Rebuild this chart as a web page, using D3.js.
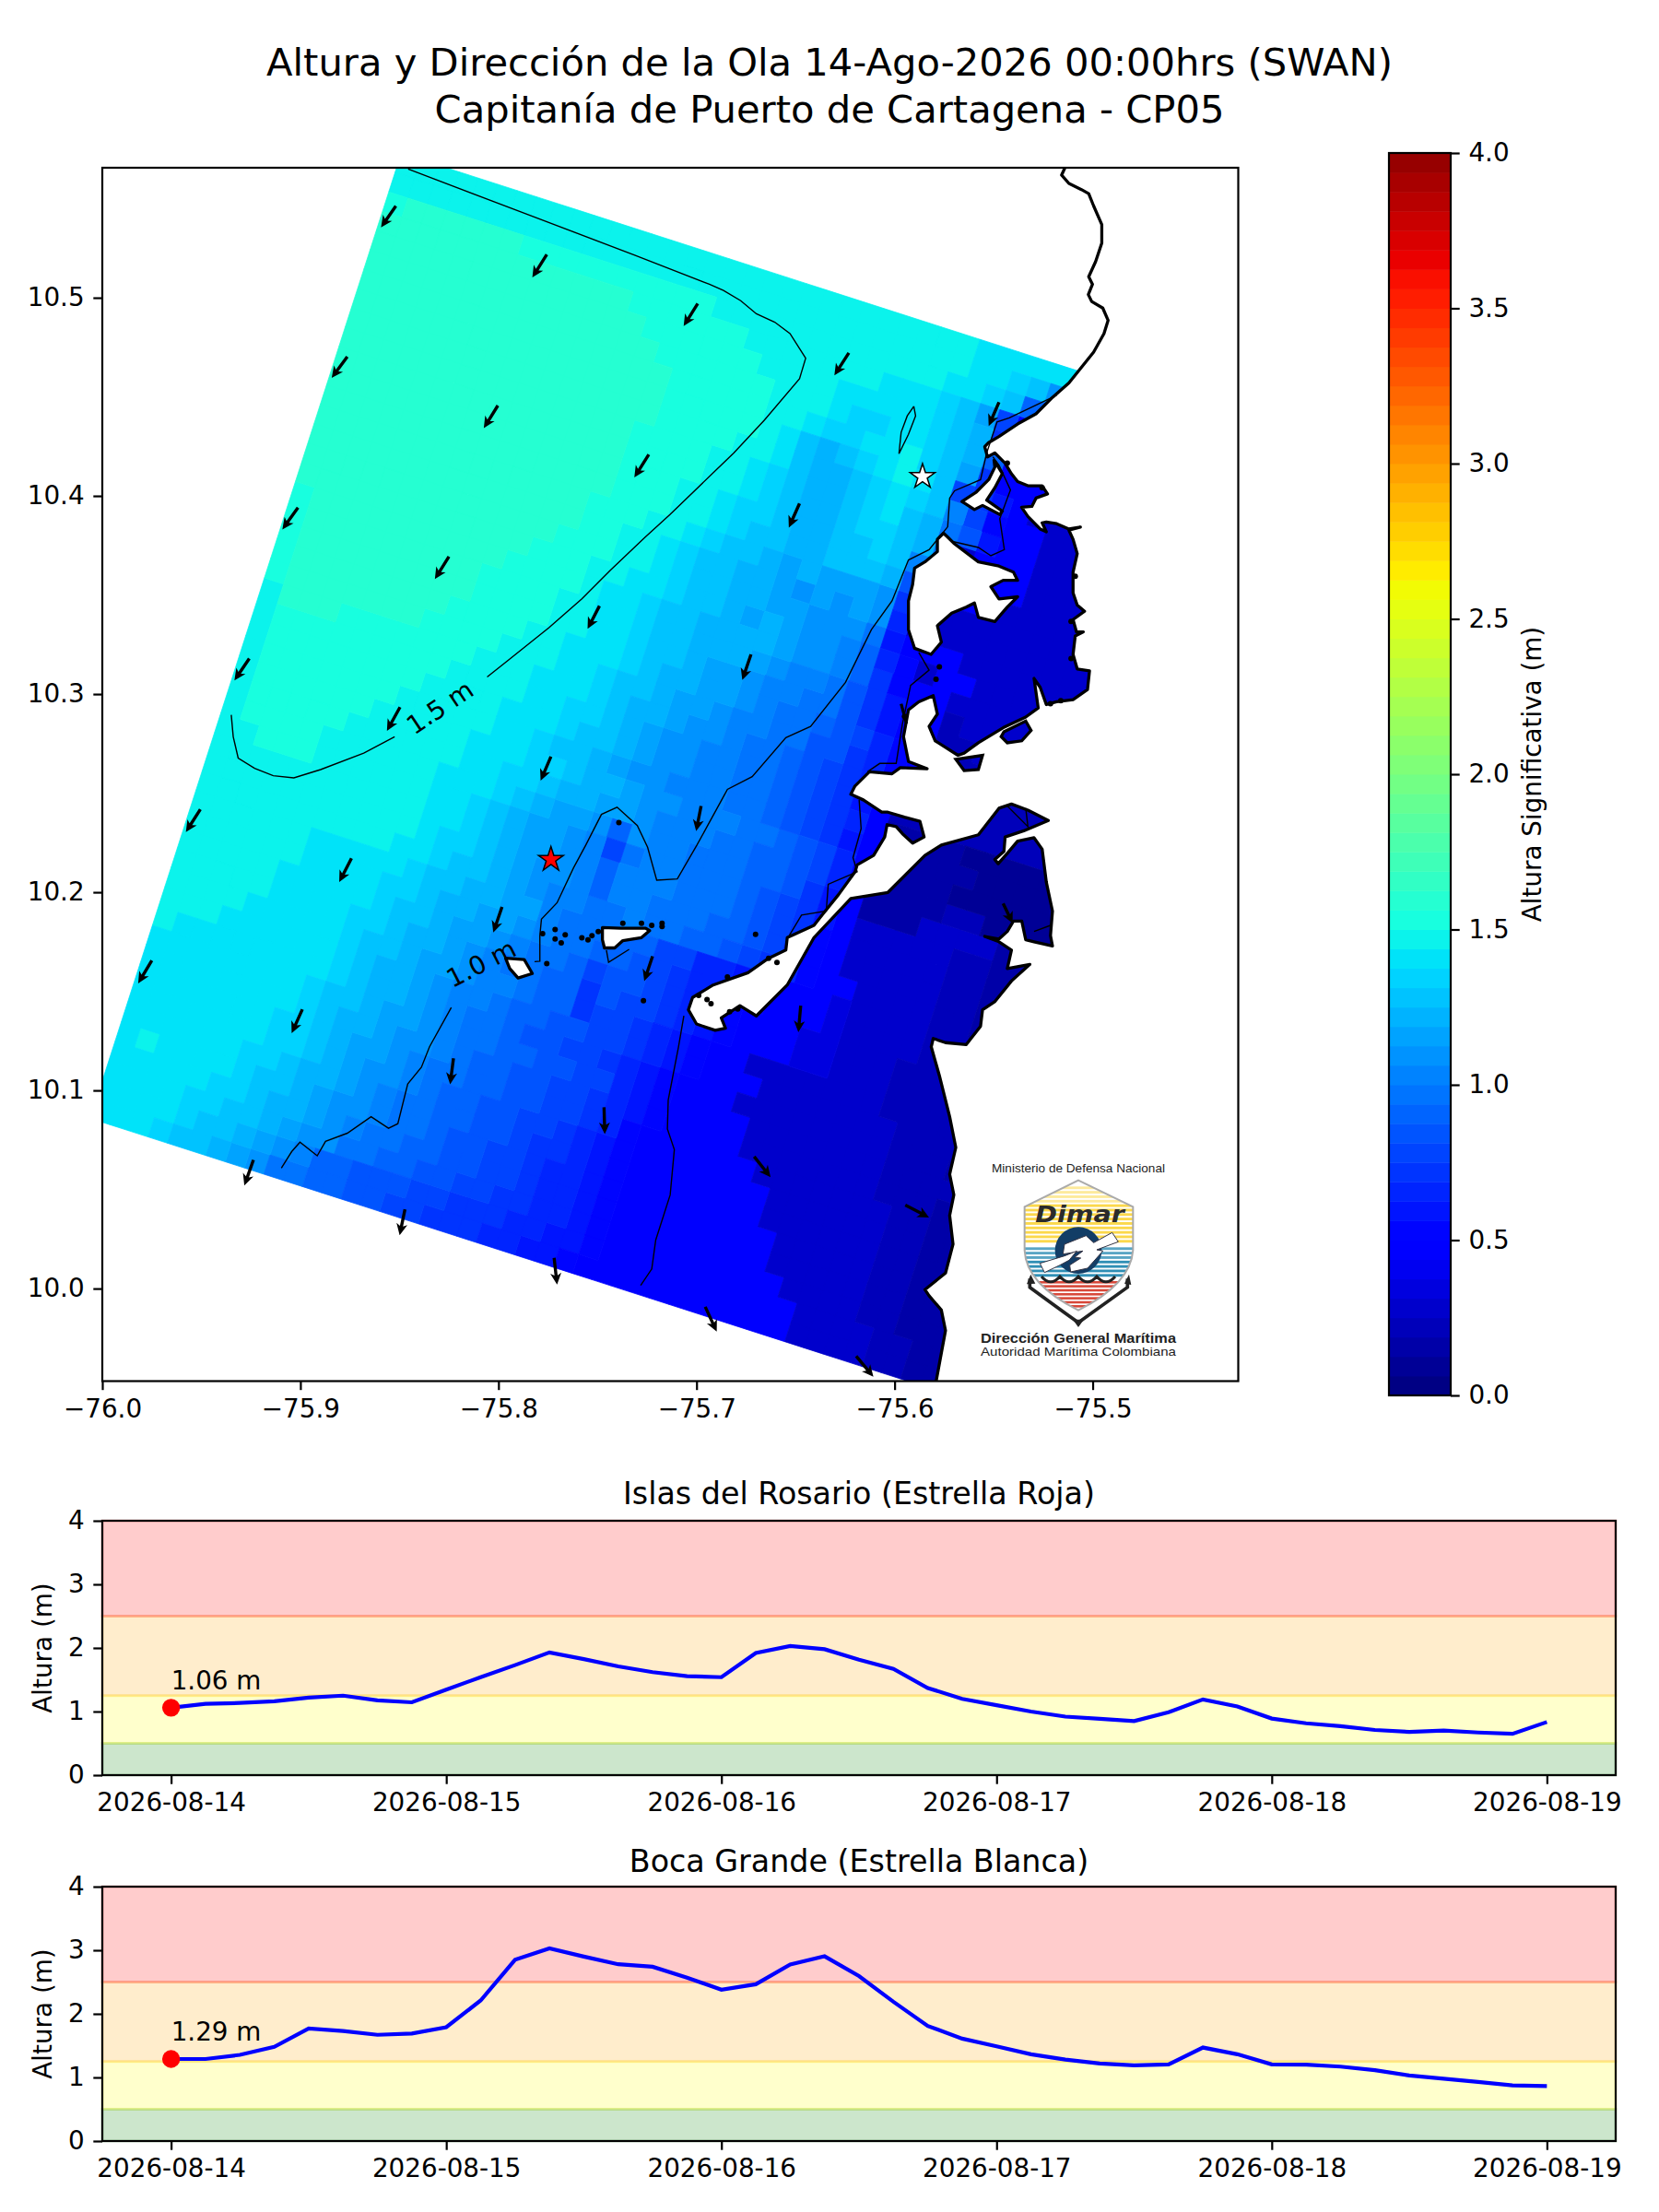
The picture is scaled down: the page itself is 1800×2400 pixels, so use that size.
<!DOCTYPE html>
<html><head><meta charset="utf-8">
<style>html,body{margin:0;background:#fff}svg{display:block}text{font-family:"DejaVu Sans",sans-serif;fill:#000}</style>
<script src="https://cdnjs.cloudflare.com/ajax/libs/d3/7.8.5/d3.min.js"></script></head><body>
<svg id="c" width="1800" height="2400" xmlns="http://www.w3.org/2000/svg"></svg>
<script>
const mainTitle=["Altura y Dirección de la Ola 14-Ago-2026 00:00hrs (SWAN)","Capitanía de Puerto de Cartagena - CP05"];
const lonTicks=[-76,-75.9,-75.8,-75.7,-75.6,-75.5];
const latTicks=[10,10.1,10.2,10.3,10.4,10.5];
const barTicks=[0,0.5,1,1.5,2,2.5,3,3.5,4];
// SWAN significant height grid: letter+run length, last letter fills the row
const waveCodes="abcdefghklmnopqrstuvwxyzA";
const waveMetres=[1.60,1.53,1.47,1.41,1.34,1.28,1.22,1.16,1.09,1.03,.97,.91,.84,.78,.72,.66,.59,.53,.47,.41,.34,.28,.22,.16,.09];
const waveRows=[
"c30 d16","c30 d2 e1 f1 k1 m1 u1","b1 a6 b10 c12 d2 e1 f1 n1 q1 u1","a13 b6 c7 d3 e1 f1 h1 p1 u1","a14 b6 c4 d5 e1 f1 g1 q1 u1",
"a15 b6 c3 d1 e2 d2 e1 f1 g1 n1 u1","a16 b5 c2 d1 e2 d2 c1 e1 f1 h1 q1 u1","a16 b5 c1 d1 f1 g1 f1 e1 d1 c1 d1 f1 p1 q1 s1 u1 x1","a16 b4 c2 d1 f1 g2 f1 e1 d1 e1 f1 l1 p1 t1 u2 x1","a15 b4 c2 d1 e1 f1 g2 f1 e1 d1 f1 g1 m1 o1 s1 u2 x1",
"a15 b4 c2 d1 e1 f1 g2 f1 e2 f1 g1 m1 x1 u3 x1","a15 b3 c2 d1 e2 f1 g2 f2 e1 f1 l1 u5 x1","a15 b3 c2 d1 e1 f2 g2 f3 g1 o1 u4 x1","a14 b3 c2 d1 e1 f2 g1 h1 g1 h3 k1 q1 x1","a14 b2 c2 d1 e1 f2 g2 h1 k1 h1 k1 h1 k1 r1 x1",
"a13 b3 c2 d1 e1 f2 g2 h2 k3 m1 s1 u3 x1","a12 b3 c2 d2 e1 f2 g1 h1 g1 h1 k2 l1 n1 r1 t1 x1 u2 x1","b1 a10 b4 c1 d2 e1 f2 g4 h1 k2 l1 n1 q1 t1 u2 x1","b1 a9 b4 c2 d2 e1 f2 g3 h1 k1 l2 m1 o1 q1 s1 u2 y1 x1","b1 a9 b4 c2 d2 e1 f2 g1 h2 k1 l2 m2 o1 q1 s1 u2 y2 x1",
"b1 a8 b4 c2 d3 e1 f1 g2 h2 k1 l1 m2 n1 o1 p1 r1 t1 u1 y1","b1 a7 b4 c3 d2 e1 f2 g1 h2 k1 l2 m2 o2 q1 r1 t1 u1 y1","c1 a3 b7 c3 d3 e1 f1 g2 h1 k2 l1 m2 n1 o1 p1 q1 r1 t1 u1 y1","c1 b9 c4 d2 e2 f1 g1 h1 k2 l2 m2 n1 o1 p1 q1 s1 u1 y1","c1 b8 c4 d3 e1 f2 g1 h1 k2 l2 m2 n1 o1 p1 q1 r1 u1 z4 A1",
"c1 b7 c5 d2 e1 f2 g1 h1 k2 l3 m2 n1 o1 p1 q1 s1 u1 z5 A1","c1 b6 c5 d3 e2 f1 g2 h1 k2 l3 m2 n1 o1 p1 r1 u1 z4 A1","c1 b5 c6 d2 e2 f1 g2 h2 k1 l3 m2 n2 o1 p1 r1 u1 z4 y2 A1","c1 b4 c6 d3 e1 f1 g1 h2 k1 n1 k1 l2 m3 n2 o1 q1 s1 u1 z3 x4 z2 A1","c2 b3 c6 d2 e1 f1 g1 h2 k1 l1 p1 m1 l2 m3 n1 o1 p1 q1 s1 u1 x5 y2 z2 A1",
"c11 d2 e1 f1 g1 h2 k1 l1 n1 l3 m3 n1 o1 p1 q1 t1 u1 x5 y2 z2 A1","c11 d1 e2 f1 g1 h1 k2 l1 n1 l2 m3 n2 o1 p1 r1 t1 u1 x5 y2 z2 A1","c10 d2 e1 f2 g1 h1 k1 l2 m2 l1 m2 n2 o1 p1 q1 r1 t1 u2 x4 y2 z2 A1","c6 d5 e1 f2 g2 h2 l1 m3 n2 p2 r2 s1 t1 u3 w1 x4 y3 z1","c6 d4 e2 f1 g2 h2 k1 l1 m2 n2 o1 p1 q1 r2 s1 t1 u3 w1 x4 y3 z1",
"c5 d5 e1 f2 g1 h2 k1 l1 m2 n1 p1 o2 p1 q1 r1 s1 t1 u3 w2 x3 y4 z1","c5 d4 e2 f1 g2 h1 k1 l1 m2 n2 q1 o1 p2 q1 r1 s1 t1 u3 w2 x3 y4 z1","c4 d5 e1 f2 g1 h2 k1 l2 m1 n2 q1 p2 q1 r1 s1 t1 u2 x7 y4 z1","c3 d6 e1 f1 g2 h1 k1 l2 m1 n2 o2 p2 q1 r1 s1 t1 u3 x7 y4 z1","c1 d8 e1 f1 g2 h1 k1 l1 m2 n1 o2 p2 q1 r1 s1 t1 u3 x8 y3 z1",
"d8 e1 f2 g1 h2 k1 l1 m2 n2 o2 p2 r1 s1 t1 u4 x7 y4 z1","d8 e1 f1 g2 h1 k2 l1 m1 n2 o2 p2 q1 r1 s1 t1 u4 x7 y3 z1","d7 e2 f1 g1 h2 k1 l1 m2 n2 o2 p2 q1 r1 t1 u6 x7 y2 z1","d7 e2 f1 g1 h1 k2 l1 m1 n2 o2 p2 q1 r1 s1 t1 u7 x6 y2 z1","d6 e2 f1 g2 h1 k1 l1 m2 n2 o2 p1 q2 r1 s1 t1 u7 x6 y2 z1",
"d1 c1 d4 e1 f2 g1 h1 k2 l1 m2 n1 o2 p2 q1 r2 s1 t1 u8 x5 y2 z1","d5 e2 f1 g2 h1 k1 l1 m2 n2 o2 p2 q1 r2 s1 t1 u8 x5 y2 z1","d4 e2 f2 g1 h1 k2 m2 n2 o2 p2 q2 r2 s1 t1 u9 x4 y2 z1","d4 e1 f2 g1 h1 k1 l1 n2 o3 p2 q3 r2 s2 t1 u10 x4 y2 z1","d3 e1 f2 g1 h1 k1 m2 n2 o2 p2 q3 r2 s2 t1 u11 x4 y2 z1"];
const gridColumns=46;
const gridOrigin=[-75.8491,10.5729], gridStepI=[.00974,-.00313], gridStepJ=[-.00314,-.00974];
// coast, lon/lat pairs
const coastMain=[[-75.514,10.5712],[-75.5140,10.5656],[-75.5157,10.5619],[-75.5120,10.5577],[-75.5057,10.5546],[-75.5020,10.5525],[-75.4995,10.5463],[-75.4954,10.5369],[-75.4954,10.5276],[-75.4985,10.5183],[-75.5020,10.5106],[-75.5001,10.5068],[-75.5022,10.5016],[-75.5005,10.4981],[-75.4949,10.4948],[-75.4922,10.4886],[-75.4943,10.4819],[-75.4995,10.4726],[-75.5078,10.4622],[-75.5120,10.4570],[-75.5203,10.4497],[-75.5286,10.4414],[-75.5379,10.4363],[-75.5473,10.4300],[-75.5525,10.4269],[-75.5545,10.4248],[-75.5531,10.4197],[-75.5494,10.4217],[-75.5442,10.4165],[-75.5411,10.4113],[-75.5379,10.4072],[-75.5327,10.4051],[-75.5255,10.4051],[-75.5228,10.4010],[-75.5286,10.3989],[-75.5307,10.3947],[-75.5359,10.3943],[-75.5327,10.3896],[-75.5265,10.3833],[-75.5234,10.3819],[-75.5255,10.3864],[-75.5234,10.3868],[-75.5182,10.3860],[-75.5120,10.3833],[-75.5062,10.3843],[-75.5120,10.3827],[-75.5099,10.3781],[-75.5078,10.3709],[-75.5099,10.3615],[-75.5099,10.3511],[-75.5078,10.3449],[-75.5041,10.3418],[-75.5099,10.3376],[-75.5082,10.3314],[-75.5047,10.3314],[-75.5088,10.3293],[-75.5099,10.3200],[-75.5078,10.3127],[-75.5016,10.3117],[-75.5026,10.3023],[-75.5099,10.2972],[-75.5182,10.2961],[-75.5234,10.2947],[-75.5265,10.3034],[-75.5296,10.3079],[-75.5275,10.2930],[-75.5338,10.2884],[-75.5452,10.2830],[-75.5577,10.2754],[-75.5649,10.2702],[-75.5680,10.2691],[-75.5795,10.2764],[-75.5826,10.2837],[-75.5784,10.2899],[-75.5805,10.2992],[-75.5878,10.2961],[-75.5930,10.2920],[-75.5955,10.2785],[-75.5930,10.2660],[-75.5836,10.2623],[-75.5971,10.2629],[-75.6013,10.2598],[-75.6127,10.2608],[-75.6200,10.2536],[-75.6221,10.2494],[-75.6158,10.2466],[-75.6065,10.2404],[-75.6034,10.2404],[-75.5950,10.2379],[-75.5872,10.2358],[-75.5851,10.2279],[-75.5909,10.2248],[-75.5961,10.2296],[-75.5992,10.2331],[-75.6038,10.2341],[-75.6050,10.2279],[-75.6106,10.2186],[-75.6189,10.2138],[-75.6200,10.2103],[-75.6283,10.1988],[-75.6366,10.1885],[-75.6407,10.1833],[-75.6542,10.1771],[-75.6549,10.1708],[-75.6636,10.1667],[-75.6740,10.1594],[-75.6916,10.1532],[-75.7020,10.1469],[-75.7041,10.1407],[-75.7000,10.1335],[-75.6906,10.1303],[-75.6854,10.1314],[-75.6875,10.1366],[-75.6781,10.1428],[-75.6698,10.1376],[-75.6542,10.1532],[-75.6407,10.1771],[-75.6221,10.1968],[-75.6034,10.1999],[-75.5847,10.2186],[-75.5764,10.2238],[-75.5577,10.2290],[-75.5473,10.2424],[-75.5410,10.2445],[-75.5327,10.2414],[-75.5224,10.2362],[-75.5348,10.2310],[-75.5442,10.2279],[-75.5448,10.2206],[-75.5494,10.2165],[-75.5477,10.2144],[-75.5431,10.2196],[-75.5379,10.2258],[-75.5296,10.2275],[-75.5255,10.2217],[-75.5234,10.2051],[-75.5203,10.1905],[-75.5213,10.1781],[-75.5203,10.1729],[-75.5296,10.1750],[-75.5338,10.1760],[-75.5358,10.1854],[-75.5400,10.1854],[-75.5431,10.1802],[-75.5473,10.1764],[-75.5545,10.1777],[-75.5473,10.1750],[-75.5410,10.1708],[-75.5431,10.1615],[-75.5317,10.1636],[-75.5410,10.1552],[-75.5493,10.1449],[-75.5556,10.1407],[-75.5566,10.1324],[-75.5639,10.1231],[-75.5743,10.1241],[-75.5805,10.1262],[-75.5815,10.1220],[-75.5774,10.1075],[-75.5722,10.0867],[-75.5691,10.0712],[-75.5722,10.0577],[-75.5701,10.0473],[-75.5722,10.0369],[-75.5705,10.0224],[-75.5743,10.0078],[-75.5847,9.9995],[-75.5826,9.9964],[-75.5764,9.9892],[-75.5743,9.9788],[-75.5789,9.9539],[-75.5805,9.9487]];
const coastOuterClose=[[-75.40,9.94],[-75.40,10.58],[-75.514,10.58]];
const landIslands=[
[[-75.5753,10.3812],[-75.5784,10.3781],[-75.5784,10.3719],[-75.5847,10.3667],[-75.5899,10.3636],[-75.5909,10.3553],[-75.5930,10.3470],[-75.5930,10.3325],[-75.5899,10.3231],[-75.5816,10.3200],[-75.5764,10.3262],[-75.5784,10.3345],[-75.5712,10.3408],[-75.5639,10.3439],[-75.5597,10.3460],[-75.5577,10.3387],[-75.5494,10.3366],[-75.5431,10.3439],[-75.5379,10.3491],[-75.5473,10.3480],[-75.5514,10.3542],[-75.5452,10.3574],[-75.5379,10.3574],[-75.5400,10.3615],[-75.5473,10.3646],[-75.5577,10.3667],[-75.5701,10.3761],[-75.5732,10.3792]],
[[-75.5498,10.4180],[-75.5456,10.4113],[-75.5494,10.4041],[-75.5535,10.3979],[-75.5456,10.3923],[-75.5469,10.3906],[-75.5556,10.3952],[-75.5597,10.3931],[-75.5660,10.3972],[-75.5587,10.4020],[-75.5525,10.4082],[-75.5494,10.4145]],
[[-75.7475,10.1822],[-75.7382,10.1818],[-75.7257,10.1818],[-75.7237,10.1806],[-75.7278,10.1771],[-75.7372,10.1756],[-75.7413,10.1719],[-75.7465,10.1719],[-75.7475,10.1760]],
[[-75.7964,10.1667],[-75.7870,10.1660],[-75.7829,10.1590],[-75.7901,10.1567],[-75.7943,10.1615]]];
const waterHoles=[
[[-75.5448,10.2810],[-75.5338,10.2864],[-75.5311,10.2816],[-75.5358,10.2764],[-75.5431,10.2754],[-75.5462,10.2785]],
[[-75.5691,10.2671],[-75.5556,10.2691],[-75.5577,10.2619],[-75.5649,10.2614]]];
const coastExtra=[[[-75.5967,10.2951],[-75.5940,10.2851]]];
const islets=[[-75.7777,10.1791],[-75.7714,10.1812],[-75.7663,10.1785],[-75.7714,10.1764],[-75.7683,10.1744],[-75.7579,10.1770],[-75.7548,10.1760],[-75.7528,10.1781],[-75.7496,10.1802],[-75.7372,10.1843],[-75.7278,10.1843],[-75.7226,10.1833],[-75.7174,10.1843],[-75.7174,10.1827],[-75.7392,10.2352],[-75.7268,10.1453],[-75.7756,10.1640],[-75.6989,10.1480],[-75.6947,10.1459],[-75.6927,10.1438],[-75.6844,10.1573],[-75.6636,10.1667],[-75.6594,10.1646],[-75.6833,10.1397],[-75.6792,10.1411],[-75.6702,10.1787],[-75.5774,10.3137],[-75.5791,10.3075],[-75.5255,10.4041],[-75.5950,10.2888],[-75.5088,10.3594],[-75.5109,10.3366],[-75.5109,10.3179],[-75.5161,10.2967],[-75.5213,10.2951],[-75.5431,10.4165]];
const contourLines=[
[[-75.8456,10.5650],[-75.7829,10.5411],[-75.7309,10.5214],[-75.6935,10.5068],[-75.6864,10.5037],[-75.6777,10.4985],[-75.6698,10.4919],[-75.6605,10.4877],[-75.6528,10.4819],[-75.6449,10.4695],[-75.6480,10.4591],[-75.6657,10.4383],[-75.6812,10.4217],[-75.7134,10.3906],[-75.7259,10.3792],[-75.7434,10.3626],[-75.7579,10.3480],[-75.7745,10.3335],[-75.7953,10.3169],[-75.8057,10.3086]],
[[-75.8524,10.2785],[-75.8680,10.2702],[-75.8898,10.2619],[-75.9033,10.2577],[-75.9137,10.2588],[-75.9231,10.2625],[-75.9314,10.2677],[-75.9339,10.2785],[-75.9349,10.2895]],
[[-75.5903,10.4452],[-75.5894,10.4404],[-75.5930,10.4311],[-75.5978,10.4213],[-75.5967,10.4321],[-75.5936,10.4404],[-75.5903,10.4452]],
[[-75.9096,10.0608],[-75.9044,10.0691],[-75.9002,10.0739],[-75.8915,10.0670],[-75.8873,10.0743],[-75.8763,10.0784],[-75.8643,10.0867],[-75.8555,10.0809],[-75.8508,10.0832],[-75.8458,10.1033],[-75.8389,10.1117],[-75.8348,10.1220],[-75.8238,10.1418]],
[[-75.7818,10.1650],[-75.7791,10.1652],[-75.7791,10.1781],[-75.7783,10.1864],[-75.7704,10.1947],[-75.7621,10.2123],[-75.7559,10.2238],[-75.7480,10.2393],[-75.7401,10.2429],[-75.7299,10.2337],[-75.7247,10.2227],[-75.7201,10.2061],[-75.7097,10.2067],[-75.6998,10.2238],[-75.6873,10.2466],[-75.6844,10.2519],[-75.6719,10.2583],[-75.6549,10.2780],[-75.6424,10.2837],[-75.6248,10.3059],[-75.6117,10.3325],[-75.6013,10.3470],[-75.5930,10.3677],[-75.5826,10.3729],[-75.5732,10.3844],[-75.5722,10.3989],[-75.5697,10.4026],[-75.5566,10.4082],[-75.5535,10.4217],[-75.5483,10.4373],[-75.5421,10.4394],[-75.5182,10.4508]],
[[-75.5712,10.3771],[-75.5577,10.3740],[-75.5514,10.3698],[-75.5446,10.3729],[-75.5469,10.3885],[-75.5415,10.4030],[-75.5473,10.4155],[-75.5504,10.4197]],
[[-75.7455,10.1708],[-75.7444,10.1646],[-75.7340,10.1712]],
[[-75.7064,10.1376],[-75.7091,10.1220],[-75.7143,10.0951],[-75.7147,10.0805],[-75.7112,10.0701],[-75.7133,10.0473],[-75.7206,10.0245],[-75.7226,10.0099],[-75.7282,10.0016]],
[[-75.5878,10.3210],[-75.5826,10.3121],[-75.5919,10.3044],[-75.5961,10.2847],[-75.5992,10.2650],[-75.6075,10.2650],[-75.6137,10.2608]],
[[-75.6179,10.2466],[-75.6169,10.2321],[-75.6210,10.2175],[-75.6189,10.2103],[-75.6335,10.2040],[-75.6345,10.1905],[-75.6470,10.1885],[-75.6532,10.1781]],
[[-75.5296,10.1802],[-75.5213,10.1833]],
[[-75.5431,10.2435],[-75.5327,10.2331],[-75.5338,10.2424]]];
const contourLabelText=["1.5 m","1.0 m"], contourLabelLon=[-75.8296,-75.8088], contourLabelLat=[10.2934,10.1642], contourLabelAngle=[-34,-27];
// arrows: tail lon, tail lat, d lon, d lat
const arrows=[[-75.8518,10.5463,-.0075,-.0108],[-75.7756,10.5218,-.0073,-.0116],[-75.6994,10.4971,-.0071,-.0114],[-75.8763,10.4703,-.0079,-.0108],[-75.8003,10.4456,-.0071,-.0114],[-75.7241,10.4209,-.0073,-.0116],[-75.9012,10.3941,-.0079,-.0110],[-75.8250,10.3694,-.0071,-.0114],[-75.7490,10.3445,-.0060,-.0116],[-75.9258,10.3179,-.0075,-.0110],[-75.8497,10.2934,-.0066,-.0120],[-75.7735,10.2685,-.0052,-.0122],[-75.6231,10.4722,-.0073,-.0114],[-75.5473,10.4473,-.0052,-.0120],[-75.6480,10.3962,-.0054,-.0122],[-75.6725,10.3200,-.0044,-.0129],[-75.9505,10.2418,-.0073,-.0114],[-75.8742,10.2171,-.0062,-.0120],[-75.7982,10.1926,-.0044,-.0129],[-75.9750,10.1656,-.0069,-.0116],[-75.8990,10.1409,-.0054,-.0120],[-75.8227,10.1162,-.0017,-.0131],[-75.7222,10.1677,-.0042,-.0125],[-75.6977,10.2435,-.0025,-.0127],[-75.9237,10.0649,-.0046,-.0129],[-75.8472,10.0400,-.0027,-.0131],[-75.7467,10.0915,.0004,-.0135],[-75.7719,10.0155,.0015,-.0135],[-75.6956,9.9908,.0058,-.0125],[-75.6474,10.1428,-.0012,-.0135],[-75.6709,10.0666,.0083,-.0104],[-75.5946,10.0421,.0120,-.0062],[-75.6194,9.9659,.0087,-.0104],[-75.5452,10.1943,.0048,-.0100]];
const stationNames=["Islas del Rosario (Estrella Roja)","Boca Grande (Estrella Blanca)"];
const stationLon=[-75.7735,-75.5859], stationLat=[10.2165,10.4097], stationFill=["#ff0000","#ffffff"];
const seriesStart="2026-08-14T00:00:00Z";
const rosarioHeights=[1.06,1.12,1.135,1.16,1.22,1.25,1.175,1.145,1.345,1.54,1.73,1.93,1.825,1.71,1.62,1.555,1.54,1.92,2.03,1.98,1.815,1.67,1.37,1.20,1.10,1.0,.92,.885,.85,.99,1.19,1.08,.89,.815,.77,.71,.68,.70,.67,.65,.835];
const bocaHeights=[1.29,1.29,1.355,1.48,1.77,1.73,1.67,1.69,1.79,2.21,2.85,3.03,2.90,2.78,2.74,2.57,2.38,2.465,2.775,2.905,2.595,2.19,1.81,1.61,1.49,1.365,1.28,1.22,1.19,1.205,1.47,1.365,1.205,1.20,1.17,1.115,1.03,.98,.93,.875,.865];
const dateTicks=["2026-08-14","2026-08-15","2026-08-16","2026-08-17","2026-08-18","2026-08-19"];
const bandEdges=[0,.5,1.25,2.5,4], bandColors=["#008000","#ffff00","#ffa500","#ff0000"];

const svg=d3.select("#c");
const TICK=9.7,LW=2.2,FS=27.8;
svg.append("rect").attr("width",1800).attr("height",2400).attr("fill","#fff");
// titles
mainTitle.forEach((t,i)=>svg.append("text").attr("x",900).attr("y",82+i*51).attr("text-anchor","middle").attr("font-size",41.67).text(t));

// jet colours, 64 steps
const jR=d3.scaleLinear().domain([0,.35,.66,.89,1]).range([0,0,1,1,.545]);
const jG=d3.scaleLinear().domain([0,.125,.375,.64,.91,1]).range([0,0,1,1,0,0]);
const jB=d3.scaleLinear().domain([0,.11,.34,.65,1]).range([.5,1,1,0,0]);
const nBands=64;
const bandColor=d3.range(nBands).map(k=>{const t=(k+.25)/nBands;return d3.rgb(jR(t)*255,jG(t)*255,jB(t)*255).formatHex();});
const color=d3.scaleQuantize().domain([0,4]).range(bandColor);

// map
const M={l:111,r:1343.5,t:182,b:1498.5};
const xs=d3.scaleLinear().domain([-76,-75.4265]).range([M.l,M.r]);
const ys=d3.scaleLinear().domain([9.9533,10.5656]).range([M.b,M.t]);
const defs=svg.append("defs");
defs.append("clipPath").attr("id","mapclip").append("rect").attr("x",M.l).attr("y",M.t).attr("width",M.r-M.l).attr("height",M.b-M.t);
const map=svg.append("g").attr("clip-path","url(#mapclip)");
const metresOf=Object.fromEntries([...waveCodes].map((c,i)=>[c,waveMetres[i]]));
const cellsData=[];
waveRows.forEach((row,j)=>{
  const seq=[];
  row.split(" ").forEach(tok=>{const n=+tok.slice(1);for(let k=0;k<n;k++)seq.push(tok[0]);});
  const last=seq[seq.length-1];
  while(seq.length<gridColumns)seq.push(last);
  seq.forEach((c,i)=>cellsData.push({i,j,v:metresOf[c]}));
});
const node=(i,j)=>[xs(gridOrigin[0]+i*gridStepI[0]+j*gridStepJ[0]),ys(gridOrigin[1]+i*gridStepI[1]+j*gridStepJ[1])];
const cellPath=d=>"M"+[node(d.i,d.j),node(d.i+1,d.j),node(d.i+1,d.j+1),node(d.i,d.j+1)].map(p=>p[0].toFixed(2)+","+p[1].toFixed(2)).join("L")+"Z";
map.append("g").selectAll("path").data(Array.from(d3.group(cellsData,d=>color(d.v)))).join("path")
 .attr("d",d=>d[1].map(cellPath).join("")).attr("fill",d=>d[0]).attr("stroke",d=>d[0]).attr("stroke-width",.8);
const ll=d3.line().x(d=>xs(d[0])).y(d=>ys(d[1]));
const closed=a=>ll(a)+"Z";
// land
const CW=3.3;
map.append("path").attr("fill","#fff").attr("fill-rule","evenodd").attr("d",closed(coastMain.concat(coastOuterClose))+waterHoles.map(closed).join(""));
map.append("path").attr("fill","none").attr("stroke","#000").attr("stroke-width",CW).attr("stroke-linejoin","round").attr("d",ll(coastMain));
map.selectAll("path.hole").data(waterHoles).join("path").attr("class","hole").attr("d",closed).attr("fill","none").attr("stroke","#000").attr("stroke-width",CW);
map.selectAll("path.isl").data(landIslands).join("path").attr("class","isl").attr("d",closed).attr("fill","#fff").attr("stroke","#000").attr("stroke-width",CW).attr("stroke-linejoin","round");
map.selectAll("path.ex").data(coastExtra).join("path").attr("class","ex").attr("d",ll).attr("fill","none").attr("stroke","#000").attr("stroke-width",CW);
map.selectAll("circle.il").data(islets).join("circle").attr("class","il").attr("cx",d=>xs(d[0])).attr("cy",d=>ys(d[1])).attr("r",3).attr("fill","#000");
// contours
map.selectAll("path.ct").data(contourLines).join("path").attr("class","ct").attr("d",ll).attr("fill","none").attr("stroke","#000").attr("stroke-width",1.4);
contourLabelText.forEach((t,k)=>{
 map.append("text").attr("transform",`translate(${xs(contourLabelLon[k])},${ys(contourLabelLat[k])}) rotate(${contourLabelAngle[k]})`).attr("text-anchor","middle").attr("dy","0.36em").attr("font-size",FS).text(t);
});
// arrows
function arrowPath(a){
 const x0=xs(a[0]),y0=ys(a[1]),x1=xs(a[0]+a[2]),y1=ys(a[1]+a[3]);
 const L=Math.hypot(x1-x0,y1-y0),ux=(x1-x0)/L,uy=(y1-y0)/L,nx=-uy,ny=ux;
 const w=1.7,hl=12.5,hw=6,nk=10;
 const P=(s,t)=>[x0+ux*s+nx*t,y0+uy*s+ny*t];
 const pts=[P(0,-w),P(L-nk,-w),P(L-hl,-hw),P(L,0),P(L-hl,hw),P(L-nk,w),P(0,w)];
 return "M"+pts.map(p=>p[0].toFixed(2)+","+p[1].toFixed(2)).join("L")+"Z";
}
map.selectAll("path.ar").data(arrows).join("path").attr("class","ar").attr("d",arrowPath).attr("fill","#000");
// stars
const star=d3.symbol().type(d3.symbolStar).size(225);
stationLon.forEach((lon,k)=>map.append("path").attr("d",star()).attr("transform",`translate(${xs(lon)},${ys(stationLat[k])})`).attr("fill",stationFill[k]).attr("stroke","#000").attr("stroke-width",1.5));

// logo (pixels, an image in the original)
(function(){
 const g=svg.append("g").attr("transform","translate(1040,1250) scale(.3333)");
 const shield="M390,92 L568,178 L568,320 Q560,430 390,515 Q220,430 215,320 L215,178 Z";
 defs.append("clipPath").attr("id","sh").append("path").attr("d",shield);
 g.append("path").attr("d",shield).attr("fill","#fff");
 const st=g.append("g").attr("clip-path","url(#sh)");
 const logoStripes=[[112,300,"#fbd84b",14.5],[310,405,"#2f8fb5",14.5],[420,500,"#d8493a",13]];
 logoStripes.forEach(s=>{d3.range(s[0],s[1],s[3]).forEach((y,i)=>st.append("rect").attr("x",215).attr("y",y).attr("width",360).attr("height",s[3]*.6).attr("fill",s[2]).attr("opacity",s[0]==112&&y<170?.55:(s[0]==310&&y<340?.8:1)));});
 g.append("path").attr("d",shield).attr("fill","none").attr("stroke","#aaa").attr("stroke-width",6);
 g.append("circle").attr("cx",390).attr("cy",320).attr("r",76).attr("fill","#123d66");
 g.append("text").attr("x",395).attr("y",228).attr("text-anchor","middle").attr("font-size",75).attr("font-weight","bold").attr("font-style","italic").attr("textLength",290).attr("lengthAdjust","spacingAndGlyphs").attr("style","fill:#2b2b2b").text("Dimar");
 g.append("path").attr("d","M500,262 L520,292 L450,318 L470,322 L420,378 L365,390 L362,368 L398,345 L378,342 L405,322 L340,332 L345,300 L415,272 L440,295 Z").attr("fill","#fff").attr("stroke","#334").attr("stroke-width",3);
 g.append("path").attr("d","M265,362 L345,338 L385,322 L360,352 L330,368 L280,392 Z").attr("fill","#fff").attr("stroke","#334").attr("stroke-width",3);
 g.append("path").attr("d","M270,405 Q300,440 330,405 Q360,440 390,405 Q420,440 450,405 Q480,440 510,405").attr("fill","none").attr("stroke","#222").attr("stroke-width",9);
 g.append("path").attr("d","M232,412 L232,440 Q300,490 390,555 Q480,490 550,440 L550,412").attr("fill","none").attr("stroke","#222").attr("stroke-width",11);
 g.append("path").attr("d","M222,430 L235,398 L250,428 Z M540,428 L555,398 L562,432 Z M372,545 L390,570 L408,545 Z").attr("fill","#222");
 const tx=(t,y,fs,w,bold)=>svg.append("text").attr("x",1170).attr("y",y).attr("text-anchor","middle").attr("font-size",fs).attr("font-weight",bold?"bold":"normal").attr("textLength",w).attr("lengthAdjust","spacingAndGlyphs").attr("style","font-family:'Liberation Sans';fill:#222").text(t);
 tx("Ministerio de Defensa Nacional",1271.5,13.5,188,false);
 tx("Dirección General Marítima",1456.5,14.5,212,true);
 tx("Autoridad Marítima Colombiana",1470.5,13.5,212,false);
})();

// axes helper
function style(ax){ax.select(".domain").remove();ax.selectAll(".tick line").attr("stroke","#000").attr("stroke-width",LW);ax.selectAll(".tick text").attr("font-size",FS).attr("style","font-family:'DejaVu Sans';fill:#000");}
svg.append("g").attr("transform",`translate(0,${M.b})`).call(d3.axisBottom(xs).tickValues(lonTicks).tickFormat(d3.format(".1f")).tickSize(TICK).tickPadding(TICK)).call(style);
svg.append("g").attr("transform",`translate(${M.l},0)`).call(d3.axisLeft(ys).tickValues(latTicks).tickFormat(d3.format(".1f")).tickSize(TICK).tickPadding(TICK)).call(style);
svg.append("rect").attr("x",M.l).attr("y",M.t).attr("width",M.r-M.l).attr("height",M.b-M.t).attr("fill","none").attr("stroke","#000").attr("stroke-width",LW);

// colorbar
const CB={l:1507,r:1574,t:166,b:1514};
const cy=d3.scaleLinear().domain([0,4]).range([CB.b,CB.t]);
svg.append("g").selectAll("rect").data(bandColor).join("rect")
 .attr("x",CB.l).attr("width",CB.r-CB.l).attr("y",(d,k)=>cy((k+1)/nBands*4)).attr("height",(d,k)=>cy(k/nBands*4)-cy((k+1)/nBands*4)+.5).attr("fill",d=>d);
svg.append("g").attr("transform",`translate(${CB.r},0)`).call(d3.axisRight(cy).tickValues(barTicks).tickFormat(d3.format(".1f")).tickSize(TICK).tickPadding(TICK)).call(style);
svg.append("rect").attr("x",CB.l).attr("y",CB.t).attr("width",CB.r-CB.l).attr("height",CB.b-CB.t).attr("fill","none").attr("stroke","#000").attr("stroke-width",LW);
svg.append("text").attr("transform","translate(1662,840) rotate(-90)").attr("text-anchor","middle").attr("dy","0.36em").attr("font-size",FS).text("Altura Significativa (m)");

// time panels
const T0=new Date(seriesStart).getTime(),H3=3*3600e3;
const px=d3.scaleUtc().domain([new Date("2026-08-13T18:00:00Z"),new Date("2026-08-19T06:00:00Z")]).range([111,1753]);
const fmt=d3.utcFormat("%Y-%m-%d");
[[stationNames[0],rosarioHeights,1650,1926,1632],[stationNames[1],bocaHeights,2047,2323,2031]].forEach(([name,vals,top,bot,ty])=>{
 const py=d3.scaleLinear().domain([0,4]).range([bot,top]);
 const g=svg.append("g");
 bandColors.forEach((c,k)=>g.append("rect").attr("x",111).attr("width",1753-111).attr("y",py(bandEdges[k+1])).attr("height",py(bandEdges[k])-py(bandEdges[k+1])).attr("fill",c).attr("fill-opacity",.2).attr("stroke",c).attr("stroke-opacity",.2).attr("stroke-width",2.8));
 g.append("path").attr("d",d3.line().x((d,i)=>px(new Date(T0+i*H3))).y(d=>py(d))(vals)).attr("fill","none").attr("stroke","#0000ff").attr("stroke-width",4.2);
 g.append("circle").attr("cx",px(new Date(T0))).attr("cy",py(vals[0])).attr("r",9.7).attr("fill","#ff0000");
 g.append("text").attr("x",px(new Date(T0))).attr("y",py(vals[0])-20).attr("font-size",FS).text(vals[0].toFixed(2)+" m");
 svg.append("g").attr("transform",`translate(0,${bot})`).call(d3.axisBottom(px).tickValues(dateTicks.map(d=>new Date(d+"T00:00:00Z"))).tickFormat(fmt).tickSize(TICK).tickPadding(TICK)).call(style);
 svg.append("g").attr("transform","translate(111,0)").call(d3.axisLeft(py).tickValues([0,1,2,3,4]).tickFormat(d3.format("d")).tickSize(TICK).tickPadding(TICK)).call(style);
 svg.append("rect").attr("x",111).attr("y",top).attr("width",1753-111).attr("height",bot-top).attr("fill","none").attr("stroke","#000").attr("stroke-width",LW);
 svg.append("text").attr("x",932).attr("y",ty).attr("text-anchor","middle").attr("font-size",33.3).text(name);
 svg.append("text").attr("transform",`translate(46,${(top+bot)/2}) rotate(-90)`).attr("text-anchor","middle").attr("dy","0.36em").attr("font-size",FS).text("Altura (m)");
});
</script></body></html>
